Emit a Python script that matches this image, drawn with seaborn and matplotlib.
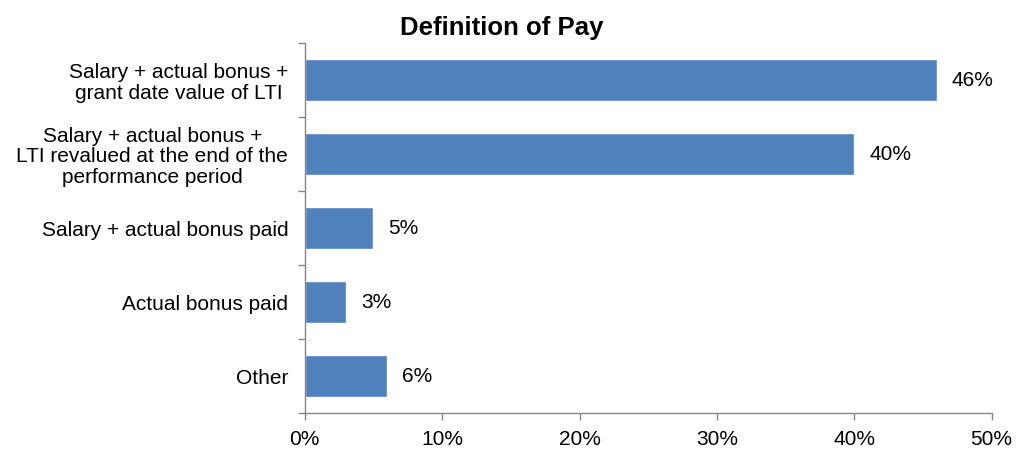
import matplotlib
matplotlib.use("Agg")
import matplotlib.pyplot as plt
import seaborn as sns
import pandas as pd
import numpy as np

categories = [
    "Salary + actual bonus +\ngrant date value of LTI",
    "Salary + actual bonus +\nLTI revalued at the end of the\nperformance period",
    "Salary + actual bonus paid",
    "Actual bonus paid",
    "Other",
]
values = [46, 40, 5, 3, 6]
xticks = [0, 10, 20, 30, 40, 50]

sns.set_style("white")
plt.rcParams['font.family'] = ['Liberation Sans', 'DejaVu Sans']
plt.rcParams['xtick.bottom'] = True
plt.rcParams['ytick.left'] = True
plt.rcParams['text.color'] = 'black'
plt.rcParams['xtick.labelcolor'] = 'black'
plt.rcParams['ytick.labelcolor'] = 'black'

df = pd.DataFrame({"cat": categories, "val": values})

fig = plt.figure(figsize=(10.16, 4.5), dpi=100)
ax = fig.add_axes([0.300, 0.082, 0.676, 0.822])

sns.barplot(data=df, y="cat", x="val", orient="h", color="#4F81BD",
            saturation=1, width=0.57, ax=ax)

for i, v in enumerate(values):
    ax.text(v + 1.1, i, f"{v}%", va="center", ha="left", fontsize=15, color="black")

ax.set_xlim(0, 50)
ax.set_ylim(4.5, -0.5)
ax.set_xticks(xticks)
ax.set_xticklabels([f"{t}%" for t in xticks], fontsize=15)
ax.set_yticks(range(len(categories)))
ax.set_yticklabels(categories, fontsize=15, linespacing=1.1, multialignment="center")
ax.set_yticks(np.arange(-0.5, len(categories), 1), minor=True)
ax.tick_params(axis="y", which="major", length=0, pad=12)
ax.tick_params(axis="y", which="minor", left=True, length=5, color="#868686", width=1, direction="out")
ax.tick_params(axis="x", which="major", bottom=True, length=5, color="#868686", width=1, direction="out", pad=7)
ax.set_xlabel("")
ax.set_ylabel("")

for s in ["top", "right"]:
    ax.spines[s].set_visible(False)
for s in ["left", "bottom"]:
    ax.spines[s].set_color("#868686")
    ax.spines[s].set_linewidth(1)

fig.text(0.494, 0.938, "Definition of Pay", ha="center", va="center",
         fontsize=18.5, fontweight="bold")

fig.savefig("out.png", dpi=100)
